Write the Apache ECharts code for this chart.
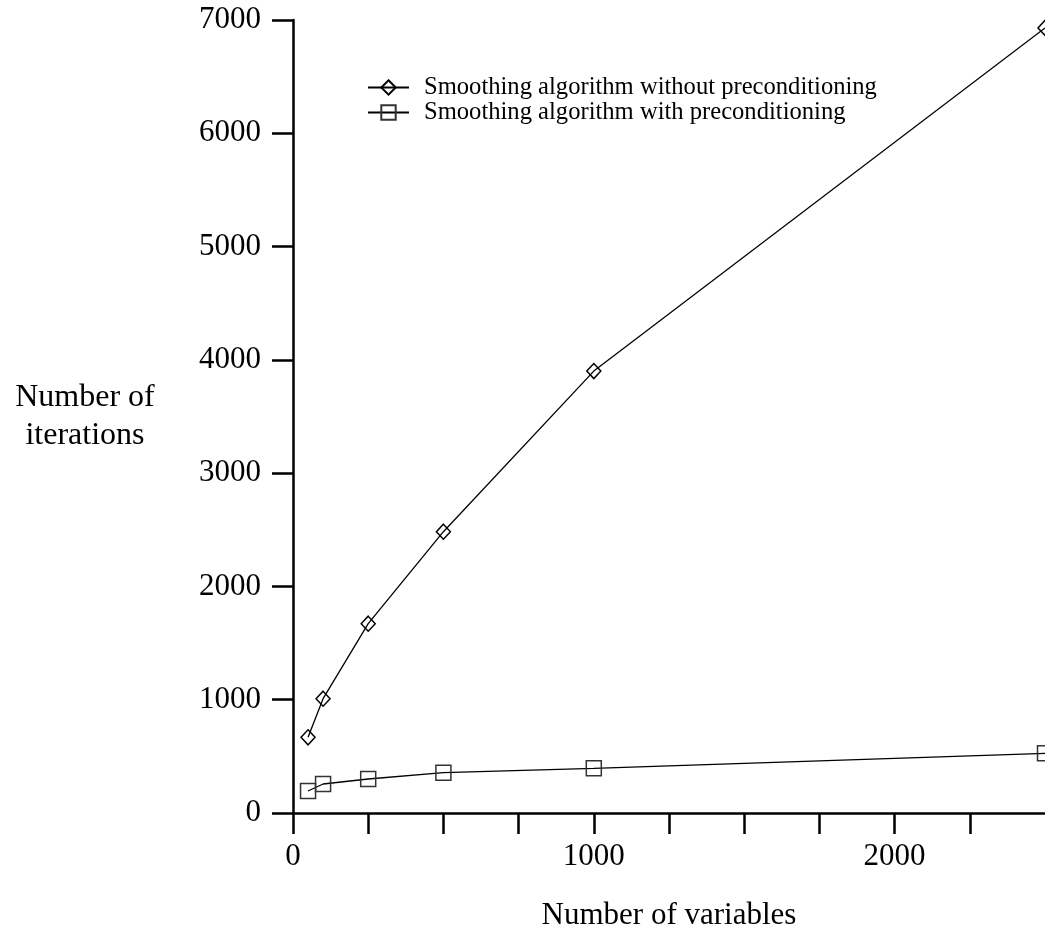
<!DOCTYPE html>
<html>
<head>
<meta charset="utf-8">
<script src="https://cdn.jsdelivr.net/npm/echarts@6/dist/echarts.min.js"></script>
<style>
html,body{margin:0;padding:0;background:#fff;}
#chart{width:1045px;height:936px;}
</style>
</head>
<body>
<div id="chart"></div>
<script>
var variables = [50, 100, 250, 500, 1000, 2500];
var withoutPrecond = [668, 1009, 1671, 2483, 3901, 6930];
var withPrecond = [194, 256, 300, 356, 394, 527];
var seriesNames = ['Smoothing algorithm without preconditioning', 'Smoothing algorithm with preconditioning'];
var xLabelValues = [0, 1000, 2000];

function pairs(xs, ys) { return xs.map(function (x, i) { return [x, ys[i]]; }); }

var font = 'Liberation Serif';
var chart = echarts.init(document.getElementById('chart'));
chart.setOption({
  backgroundColor: '#fff',
  animation: false,
  grid: { left: 293, top: 20, bottom: 123, right: -2, containLabel: false },
  legend: {
    orient: 'vertical',
    left: 362,
    top: 70,
    itemWidth: 41,
    itemHeight: 18,
    itemGap: 0,
    textStyle: { fontFamily: font, fontSize: 24.6, color: '#000', lineHeight: 24, padding: [0, 0, 0, 10] },
    data: seriesNames
  },
  xAxis: {
    type: 'value',
    min: 0,
    max: 2500,
    interval: 250,
    name: 'Number of variables',
    nameLocation: 'middle',
    nameGap: 87,
    nameTextStyle: { fontFamily: font, fontSize: 31, color: '#000' },
    axisLine: { lineStyle: { color: '#000', width: 2.5 } },
    axisTick: { show: true, length: 21, inside: false, lineStyle: { color: '#000', width: 2.5 } },
    axisLabel: {
      margin: 28,
      fontFamily: font, fontSize: 31, color: '#000',
      showMaxLabel: false,
      formatter: function (v) { return xLabelValues.indexOf(v) >= 0 ? String(v) : ''; }
    },
    splitLine: { show: false }
  },
  yAxis: {
    type: 'value',
    min: 0,
    max: 7000,
    interval: 1000,
    name: 'Number of\niterations',
    nameLocation: 'middle',
    nameRotate: 0,
    nameGap: 208,
    nameTextStyle: { fontFamily: font, fontSize: 32, color: '#000', align: 'center', lineHeight: 38, padding: [24, 0, 0, 0] },
    axisLine: { lineStyle: { color: '#000', width: 2.5 } },
    axisTick: { show: true, length: 21, inside: false, lineStyle: { color: '#000', width: 2.5 } },
    axisLabel: { margin: 32, fontFamily: font, fontSize: 31, color: '#000', formatter: function (v) { return String(v); } },
    splitLine: { show: false }
  },
  series: [
    {
      name: seriesNames[0],
      type: 'line',
      data: pairs(variables, withoutPrecond),
      smooth: false,
      symbol: 'diamond',
      symbolSize: [14, 15],
      showAllSymbol: true,
      clip: false,
      lineStyle: { color: '#000', width: 1.3 },
      itemStyle: { color: 'rgba(255,255,255,0)', borderColor: '#000', borderWidth: 1.5 }
    },
    {
      name: seriesNames[1],
      type: 'line',
      data: pairs(variables, withPrecond),
      smooth: false,
      symbol: 'rect',
      symbolSize: 15,
      showAllSymbol: true,
      clip: false,
      lineStyle: { color: '#000', width: 1.3 },
      itemStyle: { color: 'rgba(255,255,255,0)', borderColor: '#333', borderWidth: 1.5 }
    }
  ]
});
</script>
</body>
</html>
